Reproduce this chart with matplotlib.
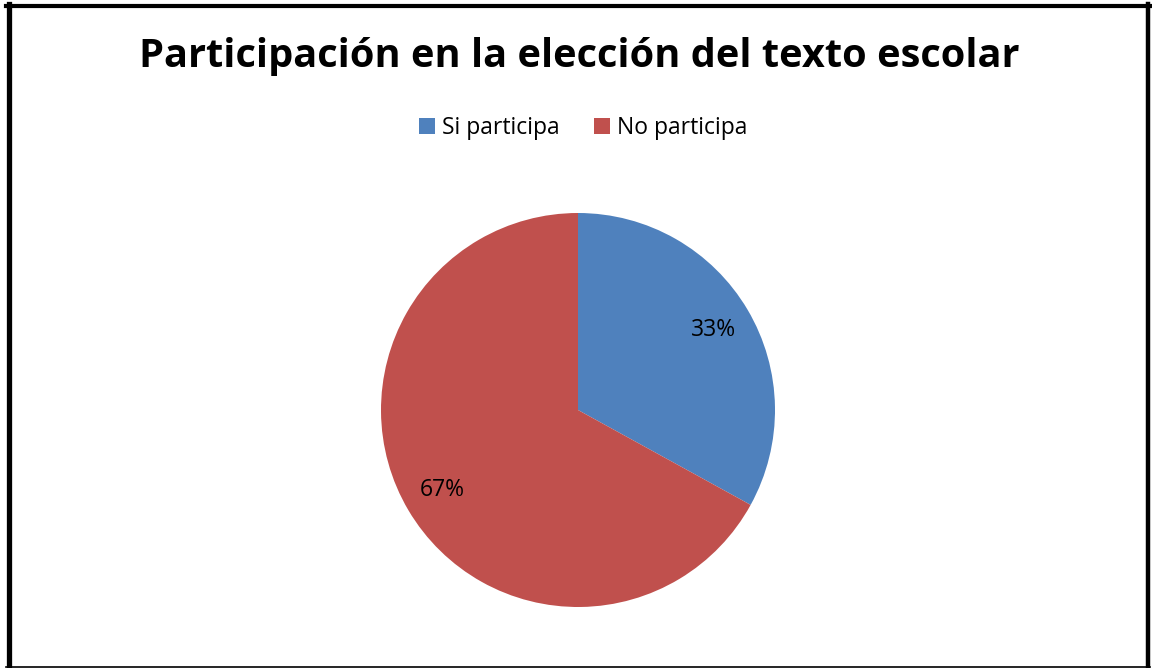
import matplotlib
matplotlib.use("Agg")
import matplotlib.pyplot as plt
from matplotlib.lines import Line2D
from matplotlib.patches import Patch

title = "Participación en la elección del texto escolar"
categories = ["Si participa", "No participa"]
values = [33, 67]
colors = ["#4F81BD", "#C0504D"]

W, H = 1152, 668
fig = plt.figure(figsize=(W / 100, H / 100), dpi=100)
fig.patch.set_facecolor("white")

# Border
def fx(x): return x / W
def fy(y): return 1 - y / H
fig.add_artist(Line2D([fx(8.5), fx(8.5)], [fy(4), fy(668)], color="black", lw=3.8, transform=fig.transFigure))
fig.add_artist(Line2D([fx(1148), fx(1148)], [fy(4), fy(668)], color="black", lw=3.2, transform=fig.transFigure))
fig.add_artist(Line2D([fx(6), fx(1150)], [fy(6), fy(6)], color="black", lw=3.0, transform=fig.transFigure))
fig.add_artist(Line2D([fx(6), fx(1150)], [fy(666.5), fy(666.5)], color="black", lw=1.2, transform=fig.transFigure))

fig.text(fx(579), fy(57), title, ha="center", va="center", fontsize=28.6,
         fontweight="bold", family="Open Sans", color="black")

cx, cy, r = 578, 410, 197
ax = fig.add_axes([fx(cx - r), fy(cy + r), 2 * r / W, 2 * r / H])
wedges, texts, autotexts = ax.pie(values, colors=colors, startangle=90, counterclock=False,
                                  autopct="%1.0f%%", pctdistance=0.8,
                                  textprops=dict(fontsize=16.5, color="black", family="Open Sans"),
                                  wedgeprops=dict(linewidth=0))
ax.set_xlim(-1, 1)
ax.set_ylim(-1, 1)
ax.set_aspect("equal")
ax.axis("off")

handles = [Patch(facecolor=c, edgecolor="none") for c in colors]
fig.legend(handles, categories, loc="center", bbox_to_anchor=(fx(583), fy(128)), ncol=2,
           frameon=False, prop=dict(family="Open Sans", size=16.5),
           handlelength=0.7, handleheight=0.7, handletextpad=0.3, columnspacing=1.5)

fig.savefig("out.png", dpi=100)
